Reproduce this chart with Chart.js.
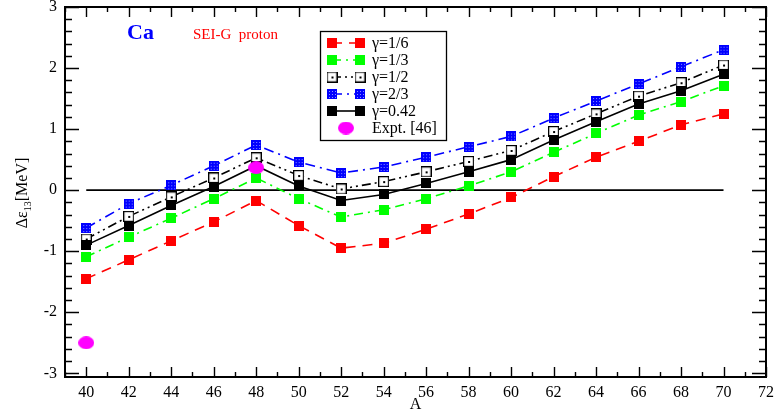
<!DOCTYPE html>
<html>
<head>
<meta charset="utf-8">
<script src="https://cdn.jsdelivr.net/npm/chart.js@4.4.1/dist/chart.umd.min.js"></script>
<style>
  body { margin: 0; background: #fff; }
  canvas { display: block; }
</style>
</head>
<body>
<canvas id="chart" width="774" height="413"></canvas>
<script>
// mass numbers
const A = [40, 42, 44, 46, 48, 50, 52, 54, 56, 58, 60, 62, 64, 66, 68, 70];

// delta eps_13 (MeV) for each gamma
const gamma16 = [-1.45, -1.14, -0.83, -0.52, -0.17, -0.58, -0.95, -0.87, -0.64, -0.39, -0.12, 0.22, 0.54, 0.80, 1.07, 1.25];
const gamma13 = [-1.09, -0.77, -0.46, -0.14, 0.20, -0.14, -0.44, -0.32, -0.14, 0.07, 0.30, 0.62, 0.93, 1.23, 1.45, 1.71];
const gamma12 = [-0.80, -0.43, -0.11, 0.20, 0.53, 0.24, 0.02, 0.14, 0.30, 0.47, 0.65, 0.96, 1.25, 1.54, 1.76, 2.05];
const gamma23 = [-0.62, -0.22, 0.08, 0.40, 0.74, 0.46, 0.28, 0.38, 0.54, 0.71, 0.88, 1.18, 1.46, 1.74, 2.02, 2.30];
const gamma042 = [-0.90, -0.58, -0.25, 0.06, 0.40, 0.07, -0.17, -0.07, 0.11, 0.30, 0.50, 0.82, 1.12, 1.41, 1.63, 1.90];

// experimental points
const exptA = [40, 48];
const exptVal = [-2.50, 0.37];

// zero reference line
const zeroA = [40, 70];
const zeroVal = [0, 0];

const xTicks = [40, 42, 44, 46, 48, 50, 52, 54, 56, 58, 60, 62, 64, 66, 68, 70, 72];
const yTicks = [-3, -2, -1, 0, 1, 2, 3];

const SERIF = '"Liberation Serif", "DejaVu Serif", serif';

function markerCanvas(w, h, paint) {
    const c = document.createElement('canvas');
    c.width = w;
    c.height = h;
    paint(c.getContext('2d'), w, h);
    return c;
}

const solidSquare = (color) => markerCanvas(10, 10, (g, w, h) => {
    g.fillStyle = color;
    g.fillRect(0, 0, w, h);
});

const dottedSquare = markerCanvas(10, 10, (g, w, h) => {
    g.fillStyle = '#0000ff';
    g.fillRect(0, 0, w, h);
    g.fillStyle = '#8c8cff';
    for (let i = 2; i < w - 1; i += 3) {
        for (let j = 2; j < h - 1; j += 3) g.fillRect(i, j, 1, 1);
    }
});

const openSquare = markerCanvas(11, 11, (g, w, h) => {
    g.fillStyle = '#fff';
    g.fillRect(0, 0, w, h);
    g.strokeStyle = '#000';
    g.lineWidth = 1.2;
    g.strokeRect(0.6, 0.6, w - 1.2, h - 1.2);
    g.fillStyle = '#000';
    g.fillRect(5, 5, 2, 2);
});

const magentaDot = markerCanvas(16, 13, (g, w, h) => {
    g.fillStyle = '#ff00ff';
    g.beginPath();
    g.ellipse(w / 2, h / 2, w / 2, h / 2, 0, 0, Math.PI * 2);
    g.fill();
});

const pts = (xs, ys) => xs.map((x, i) => ({ x: x, y: ys[i] }));

const series = [
    { label: 'γ=1/6', values: gamma16, color: '#ff0000', dash: [10, 7], marker: solidSquare('#ff0000') },
    { label: 'γ=1/3', values: gamma13, color: '#00ff00', dash: [9, 5, 2, 5], marker: solidSquare('#00ff00') },
    { label: 'γ=1/2', values: gamma12, color: '#000000', dash: [9, 4, 2, 4, 2, 4], marker: openSquare },
    { label: 'γ=2/3', values: gamma23, color: '#0000ff', dash: [10, 5, 2, 5], marker: dottedSquare },
    { label: 'γ=0.42', values: gamma042, color: '#000000', dash: [], marker: solidSquare('#000000') }
];

const datasets = [];
datasets.push({
    label: 'Expt. [46]',
    data: pts(exptA, exptVal),
    showLine: false,
    pointStyle: magentaDot,
    order: 0
});
series.forEach((s, i) => {
    datasets.push({
        label: s.label,
        data: pts(A, s.values),
        borderColor: s.color,
        borderWidth: 1.6,
        borderDash: s.dash,
        pointStyle: s.marker,
        fill: false,
        tension: 0,
        order: 5 - i
    });
});
datasets.push({
    label: 'zero',
    data: pts(zeroA, zeroVal),
    borderColor: '#000',
    borderWidth: 1.8,
    pointRadius: 0,
    order: 10
});

// frame, inward ticks, titles and legend box
const decorations = {
    id: 'decorations',
    afterDraw(chart) {
        const ctx = chart.ctx;
        const area = chart.chartArea;
        const xs = chart.scales.x;
        const ys = chart.scales.y;
        ctx.save();

        ctx.strokeStyle = '#000';
        ctx.lineWidth = 1.4;
        ctx.beginPath();
        for (let v = 39; v <= 72; v++) {
            const px = Math.round(xs.getPixelForValue(v)) + 0.5;
            const len = v % 2 === 0 ? 10 : 5;
            ctx.moveTo(px, area.bottom); ctx.lineTo(px, area.bottom - len);
            ctx.moveTo(px, area.top); ctx.lineTo(px, area.top + len);
        }
        for (let k = -15; k <= 15; k++) {
            const v = k / 5;
            const py = Math.round(ys.getPixelForValue(v)) + 0.5;
            const len = k % 5 === 0 ? 14 : 7;
            ctx.moveTo(area.left, py); ctx.lineTo(area.left + len, py);
            ctx.moveTo(area.right, py); ctx.lineTo(area.right - len, py);
        }
        ctx.stroke();

        ctx.lineWidth = 2;
        ctx.strokeRect(area.left, area.top, area.right - area.left, area.bottom - area.top);

        // x title
        ctx.fillStyle = '#000';
        ctx.font = '16px ' + SERIF;
        ctx.textAlign = 'center';
        ctx.textBaseline = 'middle';
        ctx.fillText('A', (area.left + area.right) / 2, 405);

        // y title with subscript
        ctx.save();
        ctx.translate(22, 193);
        ctx.rotate(-Math.PI / 2);
        ctx.textAlign = 'left';
        ctx.textBaseline = 'alphabetic';
        const big = '16px ' + SERIF;
        const small = '10px ' + SERIF;
        ctx.font = big;
        const w1 = ctx.measureText('Δε').width;
        const w3 = ctx.measureText('[MeV]').width;
        ctx.font = small;
        const w2 = ctx.measureText('13').width;
        let x0 = -(w1 + w2 + w3) / 2;
        ctx.font = big;
        ctx.fillText('Δε', x0, 5);
        ctx.font = small;
        ctx.fillText('13', x0 + w1, 9);
        ctx.font = big;
        ctx.fillText('[MeV]', x0 + w1 + w2, 5);
        ctx.restore();

        // panel labels
        ctx.textAlign = 'left';
        ctx.textBaseline = 'alphabetic';
        ctx.fillStyle = '#0000ff';
        ctx.font = 'bold 22px ' + SERIF;
        ctx.fillText('Ca', 127, 39);
        ctx.fillStyle = '#ff0000';
        ctx.font = '15px ' + SERIF;
        ctx.fillText('SEI-G  proton', 193, 39);

        // legend
        const box = { x: 320, y: 31, w: 126, h: 109 };
        ctx.fillStyle = '#fff';
        ctx.fillRect(box.x, box.y, box.w, box.h);
        ctx.strokeStyle = '#000';
        ctx.lineWidth = 1.3;
        ctx.strokeRect(box.x + 0.5, box.y + 0.5, box.w, box.h);

        ctx.font = '16px ' + SERIF;
        ctx.textBaseline = 'middle';
        series.forEach((s, i) => {
            const cy = 43 + i * 17;
            ctx.strokeStyle = s.color;
            ctx.lineWidth = 1.6;
            ctx.setLineDash(s.dash);
            ctx.beginPath();
            ctx.moveTo(332, cy);
            ctx.lineTo(360, cy);
            ctx.stroke();
            ctx.setLineDash([]);
            const m = s.marker;
            ctx.drawImage(m, 332 - m.width / 2, cy - m.height / 2);
            ctx.drawImage(m, 360 - m.width / 2, cy - m.height / 2);
            ctx.fillStyle = '#000';
            ctx.fillText(s.label, 372, cy + 1);
        });
        const ey = 43 + 5 * 17;
        ctx.drawImage(magentaDot, 346 - magentaDot.width / 2, ey - magentaDot.height / 2);
        ctx.fillStyle = '#000';
        ctx.fillText('Expt. [46]', 372, ey + 1);

        ctx.restore();
    }
};

new Chart(document.getElementById('chart'), {
    type: 'line',
    data: { datasets: datasets },
    options: {
        responsive: false,
        animation: false,
        events: [],
        layout: { padding: { left: 0, right: 8, top: 7, bottom: 0 } },
        plugins: {
            legend: { display: false },
            tooltip: { enabled: false }
        },
        scales: {
            x: {
                type: 'linear',
                min: 39,
                max: 72,
                grid: { display: false, drawTicks: false },
                border: { display: false },
                afterBuildTicks: (scale) => { scale.ticks = xTicks.map(v => ({ value: v })); },
                afterFit: (scale) => {
                    scale.height = 36;
                    scale.paddingLeft = 0;
                    scale.paddingRight = 0;
                },
                ticks: {
                    padding: 6,
                    color: '#000',
                    maxRotation: 0,
                    autoSkip: false,
                    font: { family: SERIF, size: 16 }
                }
            },
            y: {
                type: 'linear',
                min: -3.06,
                max: 3,
                grid: { display: false, drawTicks: false },
                border: { display: false },
                afterBuildTicks: (scale) => { scale.ticks = yTicks.map(v => ({ value: v })); },
                afterFit: (scale) => {
                    scale.width = 65;
                    scale.paddingTop = 0;
                    scale.paddingBottom = 0;
                },
                ticks: {
                    padding: 8,
                    color: '#000',
                    font: { family: SERIF, size: 16 }
                }
            }
        }
    },
    plugins: [decorations]
});
</script>
</body>
</html>
